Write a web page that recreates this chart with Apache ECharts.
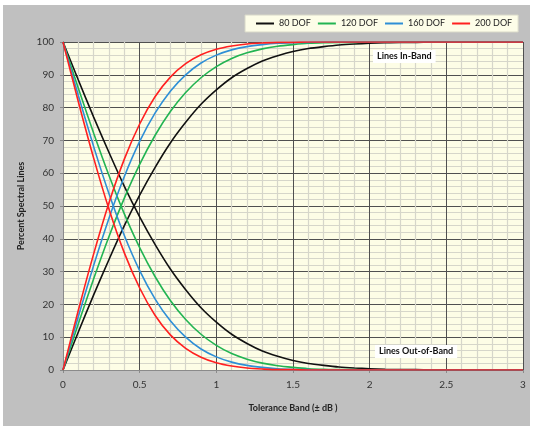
<!DOCTYPE html>
<html>
<head>
<meta charset="utf-8">
<script src="https://cdn.jsdelivr.net/npm/echarts@6/dist/echarts.min.js"></script>
<style>
html,body{margin:0;padding:0;background:#fff;}
#c{width:533px;height:426px;}
</style>
</head>
<body>
<div id="c"></div>
<script>
// Tolerance band (± dB)
var xValues = [0,0.1,0.2,0.3,0.4,0.5,0.6,0.7,0.8,0.9,1.0,1.1,1.2,1.3,1.4,1.5,1.6,1.7,1.8,1.9,2.0,2.1,2.2,2.3,2.4,2.5,2.6,2.7,2.8,2.9,3.0];
var seriesNames = ['80 DOF','120 DOF','160 DOF','200 DOF'];
var in80  = [0,11.6,22.9,33.7,44.0,53.3,61.7,69.2,75.5,81.0,85.4,89.1,91.9,94.2,95.8,97.1,98.0,98.6,99.1,99.4,99.6,99.8,99.9,99.9,100,100,100,100,100,100,100];
var out80 = [100,88.4,77.1,66.3,56.0,46.7,38.3,30.8,24.5,19.0,14.6,10.9,8.1,5.8,4.2,2.9,2.0,1.4,0.9,0.6,0.4,0.2,0.1,0.1,0,0,0,0,0,0,0];
var in120  = [0,14.1,27.8,40.7,52.4,62.7,71.5,78.8,84.6,89.1,92.5,95.0,96.7,97.9,98.7,99.2,99.6,99.8,99.9,99.9,100,100,100,100,100,100,100,100,100,100,100];
var out120 = [100,85.9,72.2,59.3,47.6,37.3,28.5,21.2,15.4,10.9,7.5,5.0,3.3,2.1,1.3,0.8,0.4,0.2,0.1,0.1,0,0,0,0,0,0,0,0,0,0,0];
var in160  = [0,16.3,31.9,46.3,59.0,69.7,78.3,85.0,90.0,93.6,96.0,97.6,98.6,99.2,99.6,99.8,99.9,100,100,100,100,100,100,100,100,100,100,100,100,100,100];
var out160 = [100,83.7,68.1,53.7,41.0,30.3,21.7,15.0,10.0,6.4,4.0,2.4,1.4,0.8,0.4,0.2,0.1,0,0,0,0,0,0,0,0,0,0,0,0,0,0];
var in200  = [0,18.2,35.4,51.0,64.3,75.0,83.3,89.3,93.4,96.1,97.8,98.8,99.4,99.7,99.9,99.9,100,100,100,100,100,100,100,100,100,100,100,100,100,100,100];
var out200 = [100,81.8,64.6,49.0,35.7,25.0,16.7,10.7,6.6,3.9,2.2,1.2,0.6,0.3,0.1,0.1,0,0,0,0,0,0,0,0,0,0,0,0,0,0,0];

var colors = ['#111111','#22b452','#2e8fd6','#ff2020'];
var pairs = [[in80,out80],[in120,out120],[in160,out160],[in200,out200]];

function toPts(arr){ return xValues.map(function(x,i){ return [x, arr[i]]; }); }

var series = [];
pairs.forEach(function(p, k){
  p.forEach(function(arr){
    series.push({
      name: seriesNames[k],
      type: 'line',
      data: toPts(arr),
      symbol: 'none',
      smooth: 0.25,
      clip: true,
      lineStyle: {color: colors[k], width: 1.6},
      itemStyle: {color: colors[k]},
      emphasis: {disabled: true},
      animation: false
    });
  });
});

var FONT = 'Lato, "Open Sans", sans-serif';
var chart = echarts.init(document.getElementById('c'), null, {renderer: 'canvas'});
chart.setOption({
  animation: false,
  backgroundColor: '#ffffff',
  color: colors,
  graphic: [
    {type: 'rect', z: -100, silent: true, shape: {x: 3, y: 5, width: 527, height: 421}, style: {fill: '#c0c0c0'}},
    {type: 'text', left: 373, top: 50, z: 100, style: {text: 'Lines In-Band', font: 'bold 9px ' + FONT, fill: '#111', backgroundColor: '#ffffff', padding: [2, 4, 2, 4]}},
    {type: 'text', left: 375, top: 345, z: 100, style: {text: 'Lines Out-of-Band', font: 'bold 9px ' + FONT, fill: '#111', backgroundColor: '#ffffff', padding: [2, 4, 2, 4]}}
  ],
  legend: {
    data: seriesNames,
    left: 245,
    top: 15,
    width: 290,
    orient: 'horizontal',
    icon: 'rect',
    itemWidth: 18,
    itemHeight: 2,
    itemGap: 7,
    padding: [4, 6, 4, 11],
    backgroundColor: '#fdfde8',
    borderColor: '#d8d8c8',
    borderWidth: 1,
    textStyle: {fontFamily: FONT, fontSize: 9, color: '#222'},
    selectedMode: false
  },
  grid: {
    left: 63, top: 42, width: 460, height: 328,
    show: true, backgroundColor: '#fdfde6', borderWidth: 0
  },
  xAxis: {
    type: 'value', min: 0, max: 3, interval: 0.5,
    name: 'Tolerance Band (\u00b1 dB )',
    nameLocation: 'middle', nameGap: 34,
    nameTextStyle: {fontFamily: FONT, fontSize: 9, fontWeight: 'bold', color: '#222'},
    axisLine: {show: true, lineStyle: {color: '#8a8a8a', width: 1}},
    axisTick: {show: true, length: 3, lineStyle: {color: '#8a8a8a'}},
    axisLabel: {fontFamily: FONT, fontSize: 10, color: '#333', margin: 10},
    splitLine: {show: true, lineStyle: {color: '#505050', width: 1}},
    minorTick: {show: false, splitNumber: 5},
    minorSplitLine: {show: true, lineStyle: {color: '#d6d6ca', width: 1.2}}
  },
  yAxis: {
    type: 'value', min: 0, max: 100, interval: 10,
    name: 'Percent Spectral Lines',
    nameLocation: 'middle', nameGap: 36, nameRotate: 90,
    nameTextStyle: {fontFamily: FONT, fontSize: 9, fontWeight: 'bold', color: '#222'},
    axisLine: {show: true, lineStyle: {color: '#8a8a8a', width: 1}},
    axisTick: {show: true, length: 3, lineStyle: {color: '#8a8a8a'}},
    axisLabel: {fontFamily: FONT, fontSize: 10, color: '#333', margin: 9},
    splitLine: {show: true, lineStyle: {color: '#505050', width: 1}},
    minorTick: {show: false, splitNumber: 5},
    minorSplitLine: {show: true, lineStyle: {color: '#d6d6ca', width: 1.2}}
  },
  series: series
});
</script>
</body>
</html>
